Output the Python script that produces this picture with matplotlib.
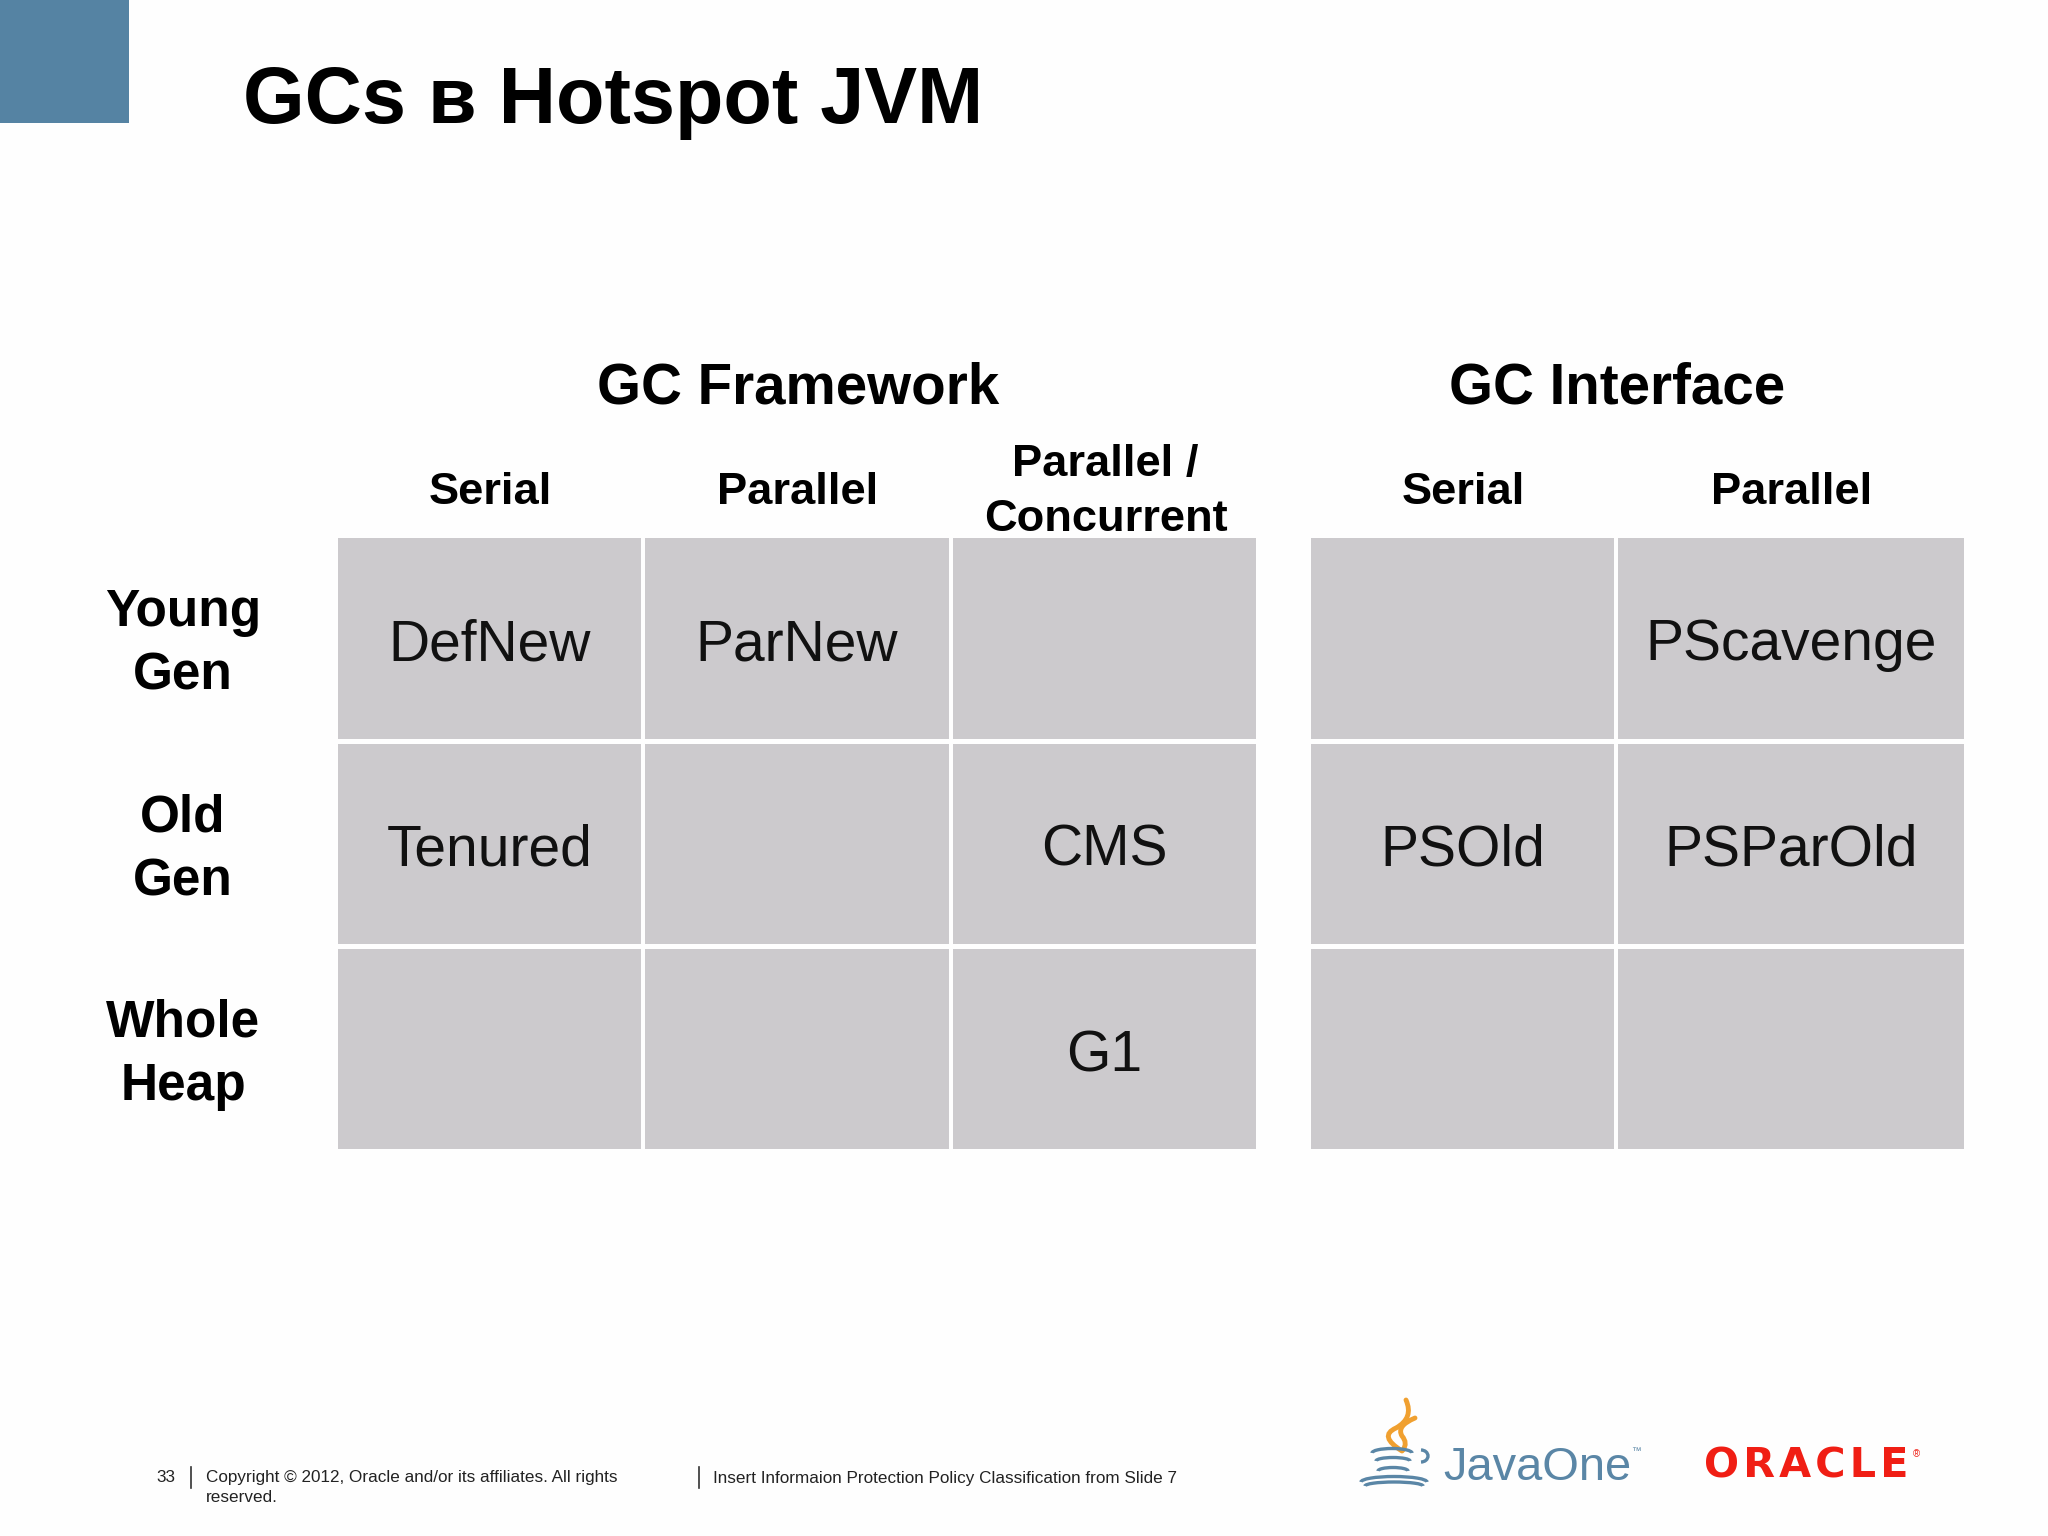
import matplotlib
matplotlib.use("Agg")
import matplotlib.pyplot as plt
from matplotlib.patches import Rectangle, PathPatch, Arc
from matplotlib.path import Path

plt.rcParams['font.family'] = ['Liberation Sans', 'DejaVu Sans']

# ---- content ----
title = "GCs в Hotspot JVM"
group_labels = ["GC Framework", "GC Interface"]
column_labels = ["Serial", "Parallel", "Parallel /\nConcurrent", "Serial", "Parallel"]
row_labels = ["Young\nGen", "Old\nGen", "Whole\nHeap"]
young_gen = ["DefNew", "ParNew", "", "", "PScavenge"]
old_gen = ["Tenured", "", "CMS", "PSOld", "PSParOld"]
whole_heap = ["", "", "G1", "", ""]
page_number = "33"
copyright_text = "Copyright © 2012, Oracle and/or its affiliates. All rights\nreserved."
policy_text = "Insert Informaion Protection Policy Classification from Slide 7"

# ---- layout (pixels of the slide) ----
W, H = 2048, 1536
col_edges = [(338, 641), (645, 949), (953, 1256), (1311, 1614), (1618, 1964)]
row_edges = [(538, 739), (744, 944), (949, 1149)]
group_centers = [798, 1617]
BG = "#fefefe"
CELL = "#cccacd"
BLUE = "#5583a3"
LOGO_BLUE = "#5a86a6"
ORANGE = "#f0a030"
RED = "#f01e14"

fig = plt.figure(figsize=(W / 100, H / 100), dpi=100, facecolor=BG)
ax = fig.add_axes([0, 0, 1, 1])
ax.set_xlim(0, W)
ax.set_ylim(H, 0)
ax.axis("off")

# corner block and title
ax.add_patch(Rectangle((0, 0), 128.5, 123, fc=BLUE, ec="none"))
ax.text(243, 123, title, fontsize=57.1, fontweight="bold", color="black", va="baseline", ha="left")

# headers
for cx, label in zip(group_centers, group_labels):
    ax.text(cx, 389, label, fontsize=40.7, fontweight="bold", ha="center", va="center")
for (x0, x1), label in zip(col_edges, column_labels):
    ax.text((x0 + x1) / 2 + 1, 492, label, fontsize=32.6, fontweight="bold", ha="center",
            va="center", linespacing=1.42)
for (y0, y1), label in zip(row_edges, row_labels):
    ax.text(183, (y0 + y1) / 2 + 6, label, fontsize=37, fontweight="bold", ha="center",
            va="center", linespacing=1.38)

# cells
for (y0, y1), row in zip(row_edges, [young_gen, old_gen, whole_heap]):
    for (x0, x1), label in zip(col_edges, row):
        ax.add_patch(Rectangle((x0, y0), x1 - x0, y1 - y0, fc=CELL, ec="none"))
        if label:
            ax.text((x0 + x1) / 2, (y0 + y1) / 2 + 7, label, fontsize=41, color="#111111",
                    ha="center", va="center")

# footer
ax.text(156, 1478, page_number, fontsize=12.3, color="#222222", va="center")
ax.plot([191, 191], [1467, 1488], color="#333333", lw=1.2)
ax.text(206, 1470, copyright_text, fontsize=12.3, color="#222222", va="top", linespacing=1.4)
ax.plot([699, 699], [1467, 1488], color="#333333", lw=1.2)
ax.text(713, 1478, policy_text, fontsize=12.3, color="#222222", va="center")

# JavaOne logo
ax.text(1443, 1480, "JavaOne", fontsize=33.8, color=LOGO_BLUE, va="baseline")
ax.text(1641, 1451, "™", fontsize=7, color=LOGO_BLUE, va="center", ha="right")
C3 = Path.CURVE3
for pts, codes in (
    ([(1406, 1400), (1414, 1418), (1396, 1428), (1378, 1436), (1402, 1451)],
     [Path.MOVETO, C3, C3, C3, C3]),
    ([(1415, 1418), (1396, 1426), (1402, 1436), (1408, 1443), (1403, 1450)],
     [Path.MOVETO, C3, C3, C3, C3]),
):
    ax.add_patch(PathPatch(Path(pts, codes), fc="none", ec=ORANGE, lw=3.5, capstyle="round"))
for cx, cy, w, h, t1, t2 in [(1392, 1453, 40, 9, 180, 360), (1393, 1461, 34, 7, 180, 360),
                             (1393, 1471, 30, 7, 180, 360),
                             (1394, 1482, 66, 11, 180, 360), (1394, 1486, 58, 8, 180, 360),
                             (1421, 1456, 14, 12, 270, 90)]:
    ax.add_patch(Arc((cx, cy), w, h, theta1=t1, theta2=t2, color=LOGO_BLUE, lw=2.4))

# ORACLE logo
ax.text(1806, 1478, "O\u200aR\u200aA\u200aC\u200aL\u200aE", fontsize=29.8, fontweight="bold", color=RED,
        family=["DejaVu Sans"], ha="center", va="baseline")
ax.text(1916, 1454, "®", fontsize=7, color=RED, ha="center", va="center")

fig.savefig("out.png", dpi=100, facecolor=BG)
